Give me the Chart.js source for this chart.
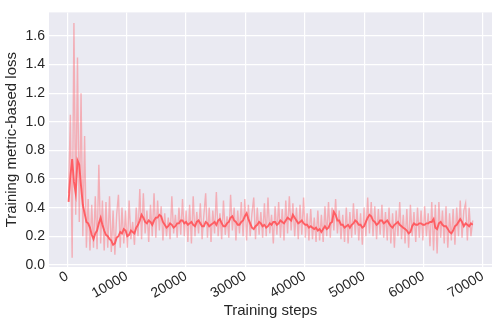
<!DOCTYPE html>
<html>
<head>
<meta charset="utf-8">
<script src="https://cdn.jsdelivr.net/npm/chart.js@4.4.0/dist/chart.umd.min.js"></script>
<style>
  body { margin: 0; background: #ffffff; }
  canvas { display: block; }
</style>
</head>
<body>
<canvas id="lossChart" width="498" height="326"></canvas>
<script>
// both series logged every 300 steps starting at step 200
var logStart = 200;
var logEvery = 300;

var rawLoss = [
  0.50, 1.05, 0.05, 1.69, 0.35, 1.45, 0.30, 1.20, 0.20, 0.90,
  0.12, 0.46, 0.10, 0.42, 0.12, 0.48, 0.11, 0.70, 0.15, 0.45,
  0.10, 0.44, 0.12, 0.48, 0.09, 0.38, 0.07, 0.35, 0.49, 0.12,
  0.40, 0.15, 0.38, 0.12, 0.45, 0.18, 0.30, 0.14, 0.40, 0.20,
  0.53, 0.18, 0.50, 0.22, 0.38, 0.16, 0.42, 0.20, 0.50, 0.19,
  0.45, 0.24, 0.41, 0.17, 0.36, 0.20, 0.33, 0.18, 0.48, 0.22,
  0.35, 0.19, 0.40, 0.21, 0.46, 0.20, 0.38, 0.16, 0.42, 0.15,
  0.48, 0.20, 0.37, 0.22, 0.43, 0.18, 0.35, 0.50, 0.19, 0.40,
  0.16, 0.38, 0.22, 0.51, 0.20, 0.36, 0.18, 0.45, 0.21, 0.34,
  0.19, 0.49, 0.24, 0.40, 0.17, 0.38, 0.22, 0.44, 0.20, 0.46,
  0.17, 0.42, 0.20, 0.36, 0.47, 0.18, 0.40, 0.21, 0.37, 0.19,
  0.43, 0.20, 0.47, 0.22, 0.35, 0.15, 0.41, 0.21, 0.44, 0.19,
  0.39, 0.17, 0.45, 0.22, 0.48, 0.24, 0.43, 0.20, 0.40, 0.18,
  0.42, 0.21, 0.47, 0.19, 0.36, 0.17, 0.39, 0.18, 0.33, 0.16,
  0.38, 0.17, 0.35, 0.16, 0.41, 0.20, 0.44, 0.19, 0.40, 0.24,
  0.46, 0.22, 0.38, 0.18, 0.35, 0.16, 0.40, 0.15, 0.37, 0.19,
  0.43, 0.21, 0.39, 0.17, 0.36, 0.14, 0.40, 0.20, 0.47, 0.22,
  0.44, 0.20, 0.41, 0.18, 0.39, 0.21, 0.42, 0.19, 0.37, 0.17,
  0.40, 0.15, 0.36, 0.12, 0.38, 0.20, 0.44, 0.18, 0.35, 0.15,
  0.39, 0.12, 0.42, 0.20, 0.37, 0.16, 0.40, 0.19, 0.38, 0.17,
  0.41, 0.20, 0.36, 0.13, 0.44, 0.10, 0.42, 0.08, 0.44, 0.19,
  0.38, 0.15, 0.41, 0.12, 0.36, 0.17, 0.39, 0.14, 0.40, 0.20,
  0.45, 0.19, 0.38, 0.43, 0.17, 0.40, 0.20, 0.31
];

var smoothLoss = [
  0.44, 0.62, 0.74, 0.58, 0.50, 0.73, 0.70, 0.55, 0.42, 0.36,
  0.30, 0.29, 0.26, 0.21, 0.18, 0.22, 0.24, 0.29, 0.33, 0.28,
  0.24, 0.21, 0.20, 0.18, 0.17, 0.14, 0.15, 0.19, 0.20, 0.23,
  0.22, 0.25, 0.24, 0.20, 0.21, 0.24, 0.23, 0.22, 0.26, 0.28,
  0.31, 0.35, 0.33, 0.30, 0.29, 0.31, 0.30, 0.28, 0.31, 0.33,
  0.33, 0.35, 0.34, 0.30, 0.28, 0.26, 0.27, 0.29, 0.28, 0.26,
  0.27, 0.29, 0.29, 0.31, 0.31, 0.29, 0.30, 0.28, 0.29, 0.30,
  0.28, 0.27, 0.30, 0.31, 0.29, 0.27, 0.27, 0.30, 0.29, 0.27,
  0.28, 0.29, 0.30, 0.28, 0.31, 0.32, 0.29, 0.27, 0.27, 0.29,
  0.30, 0.33, 0.34, 0.31, 0.30, 0.28, 0.28, 0.30, 0.31, 0.34,
  0.36, 0.32, 0.29, 0.26, 0.25, 0.27, 0.28, 0.30, 0.29, 0.27,
  0.28, 0.26, 0.27, 0.29, 0.28, 0.30, 0.30, 0.28, 0.29, 0.31,
  0.30, 0.29, 0.31, 0.33, 0.32, 0.31, 0.35, 0.33, 0.31, 0.29,
  0.30, 0.31, 0.29, 0.28, 0.28, 0.26, 0.27, 0.26, 0.25, 0.26,
  0.24, 0.25, 0.23, 0.25, 0.27, 0.25, 0.26, 0.29, 0.30, 0.37,
  0.35, 0.31, 0.31, 0.28, 0.28, 0.26, 0.27, 0.28, 0.26, 0.28,
  0.29, 0.31, 0.30, 0.28, 0.28, 0.26, 0.27, 0.30, 0.33, 0.35,
  0.34, 0.31, 0.30, 0.28, 0.29, 0.31, 0.31, 0.29, 0.30, 0.31,
  0.29, 0.27, 0.26, 0.28, 0.29, 0.30, 0.28, 0.27, 0.26, 0.25,
  0.24, 0.22, 0.23, 0.27, 0.29, 0.28, 0.28, 0.29, 0.29, 0.28,
  0.28, 0.29, 0.29, 0.30, 0.30, 0.32, 0.26, 0.25, 0.29, 0.30,
  0.28, 0.27, 0.27, 0.25, 0.23, 0.22, 0.24, 0.27, 0.28, 0.30,
  0.32, 0.30, 0.27, 0.29, 0.28, 0.27, 0.29, 0.28
];

var xTicks = [0, 10000, 20000, 30000, 40000, 50000, 60000, 70000];
var yTicks = [0.0, 0.2, 0.4, 0.6, 0.8, 1.0, 1.2, 1.4, 1.6];

var toPoints = function(values) {
  var pts = [];
  for (var i = 0; i < values.length; i++) {
    pts.push({ x: logStart + i * logEvery, y: values[i] });
  }
  return pts;
};

var inkColor = '#262626';
var fontFamily = "'Liberation Sans', Arial, sans-serif";

// seaborn darkgrid panel
var panelBackground = {
  id: 'panelBackground',
  beforeDraw: function(chart) {
    var a = chart.chartArea;
    var ctx = chart.ctx;
    ctx.save();
    ctx.fillStyle = '#EAEAF2';
    ctx.fillRect(a.left, a.top, a.right - a.left, a.bottom - a.top);
    ctx.restore();
  }
};

new Chart(document.getElementById('lossChart'), {
  type: 'line',
  data: {
    datasets: [{
      label: 'smoothed',
      data: toPoints(smoothLoss),
      borderColor: 'rgba(255, 85, 90, 0.92)',
      borderWidth: 1.9,
      pointRadius: 0,
      tension: 0,
      order: 0
    }, {
      label: 'raw',
      data: toPoints(rawLoss),
      borderColor: 'rgba(255, 90, 100, 0.42)',
      borderWidth: 1.4,
      pointRadius: 0,
      tension: 0,
      order: 1
    }]
  },
  options: {
    responsive: false,
    animation: false,
    layout: { padding: { top: 6, right: 6, bottom: 6, left: 0 } },
    plugins: {
      legend: { display: false },
      tooltip: { enabled: false }
    },
    scales: {
      x: {
        type: 'linear',
        min: -3100,
        max: 71550,
        afterBuildTicks: function(scale) {
          scale.ticks = xTicks.map(function(v) { return { value: v }; });
        },
        afterFit: function(scale) { scale.height = 53; },
        grid: { color: '#ffffff', lineWidth: 1.2, drawTicks: false },
        border: { display: false },
        ticks: {
          color: inkColor,
          font: { family: fontFamily, size: 14 },
          minRotation: 30,
          maxRotation: 30,
          padding: 1,
          callback: function(v) { return String(v); }
        },
        title: {
          display: true,
          text: 'Training steps',
          color: inkColor,
          font: { family: fontFamily, size: 15 },
          padding: 0
        }
      },
      y: {
        min: -0.015,
        max: 1.765,
        afterBuildTicks: function(scale) {
          scale.ticks = yTicks.map(function(v) { return { value: v }; });
        },
        afterFit: function(scale) { scale.width = 49; },
        grid: { color: '#ffffff', lineWidth: 1.2, drawTicks: false },
        border: { display: false },
        ticks: {
          color: inkColor,
          font: { family: fontFamily, size: 14 },
          padding: 4,
          callback: function(v) { return v.toFixed(1); }
        },
        title: {
          display: true,
          text: 'Training metric-based loss',
          color: inkColor,
          font: { family: fontFamily, size: 15 },
          padding: { top: 3, bottom: 0 }
        }
      }
    }
  },
  plugins: [panelBackground]
});
</script>
</body>
</html>
